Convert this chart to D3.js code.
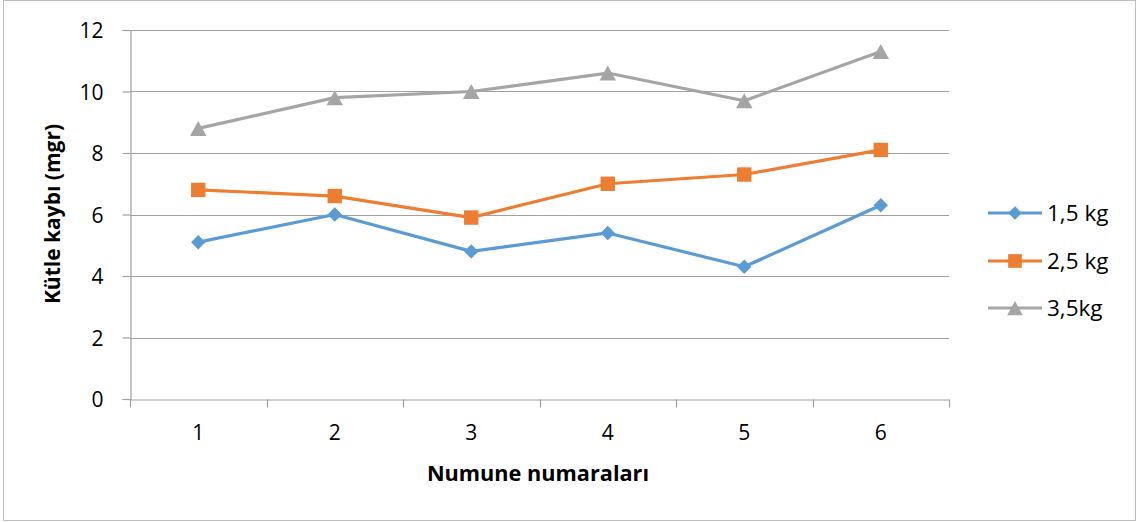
<!DOCTYPE html>
<html><head><meta charset="utf-8">
<script src="https://cdn.jsdelivr.net/npm/d3@7"></script>
<style>body{margin:0;background:#fff}svg{display:block}text{font-family:"Open Sans","Noto Sans",sans-serif;fill:#000}</style>
</head><body><svg id="c" width="1141" height="522"></svg>
<script>
const categories = ["1","2","3","4","5","6"];
const seriesNames = ["1,5 kg","2,5 kg","3,5kg"];
const s1 = [5.1, 6.0, 4.8, 5.4, 4.3, 6.3];
const s2 = [6.8, 6.6, 5.9, 7.0, 7.3, 8.1];
const s3 = [8.8, 9.8, 10.0, 10.6, 9.7, 11.3];
const yTicks = [0, 2, 4, 6, 8, 10, 12];
const colors = ["#5B9BD5", "#ED7D31", "#A5A5A5"];
const series = [s1, s2, s3];

// marker shapes
const markerPath = [
  s => `M0,${-s}L${s},0L0,${s}L${-s},0Z`,                  // diamond
  s => `M${-s},${-s}H${s}V${s}H${-s}Z`,                      // square
  s => `M0,${-s}L${s*1.1},${s}L${-s*1.1},${s}Z`              // triangle
];
const markerSize = [7.2, 7.2, 7.5];

const svg = d3.select("#c");
svg.append("rect").attr("x",3.5).attr("y",0.5).attr("width",1132).attr("height",520)
  .attr("fill","#fff").attr("stroke","#bfbfbf").attr("stroke-width",1);

const L = 130, R = 949, T = 30, B = 399;
const x = d3.scaleBand().domain(categories).range([L, R]);
const y = d3.scaleLinear().domain([0, 12]).range([B, T]);
const fs = "21px";

// gridlines
svg.append("g").selectAll("line").data(yTicks.filter(d=>d>0)).join("line")
  .attr("x1", L).attr("x2", R).attr("y1", d=>Math.round(y(d))+0.5).attr("y2", d=>Math.round(y(d))+0.5)
  .attr("stroke", "#a0a0a0").attr("stroke-width", 1.2);

// y axis
const ya = svg.append("g").attr("transform", `translate(${L+0.5},0)`)
  .call(d3.axisLeft(y).tickValues(yTicks).tickSize(8).tickPadding(19));
ya.select(".domain").attr("stroke","#a0a0a0").attr("stroke-width",1.2);
ya.selectAll(".tick line").attr("stroke","#a0a0a0").attr("stroke-width",1.2);
ya.selectAll(".tick text").style("font-size",fs).attr("dy","0.36em");

// x axis
const xa = svg.append("g").attr("transform", `translate(0,${B+0.5})`)
  .call(d3.axisBottom(x).tickSize(0).tickPadding(26));
xa.select(".domain").attr("stroke","#a0a0a0").attr("stroke-width",1.2);
xa.selectAll(".tick text").style("font-size",fs);
const bounds = categories.map(c=>x(c)).concat([R]);
xa.append("g").selectAll("line").data(bounds).join("line")
  .attr("x1", d=>Math.round(d)+0.5).attr("x2", d=>Math.round(d)+0.5).attr("y1",0).attr("y2",8)
  .attr("stroke","#a0a0a0").attr("stroke-width",1.2);

const cx = c => x(c) + x.bandwidth()/2;
const line = d3.line().x((d,i)=>cx(categories[i])).y(d=>y(d));

series.forEach((s, k) => {
  svg.append("path").datum(s).attr("d", line).attr("fill","none")
    .attr("stroke", colors[k]).attr("stroke-width", 3.2).attr("stroke-linejoin","round");
  svg.append("g").selectAll("path").data(s).join("path")
    .attr("transform", (d,i)=>`translate(${cx(categories[i])},${y(d)})`)
    .attr("d", markerPath[k](markerSize[k]))
    .attr("fill", colors[k]);
});

// axis titles
svg.append("text").attr("x", 538).attr("y", 481).attr("text-anchor","middle")
  .style("font-size","21.7px").style("font-weight","bold").text("Numune numaraları");
svg.append("text").attr("transform", `translate(60,214) rotate(-90)`).attr("text-anchor","middle")
  .style("font-size",fs).style("font-weight","bold").text("Kütle kaybı (mgr)");

// legend
const legY = [213, 261, 308];
seriesNames.forEach((n, k) => {
  const g = svg.append("g");
  g.append("line").attr("x1", 988).attr("x2", 1042).attr("y1", legY[k]).attr("y2", legY[k])
    .attr("stroke", colors[k]).attr("stroke-width", 3.2);
  g.append("path").attr("transform", `translate(1015,${legY[k]})`)
    .attr("d", markerPath[k](markerSize[k]*0.95)).attr("fill", colors[k]);
  g.append("text").attr("x", 1047).attr("y", legY[k]).attr("dy","0.36em")
    .style("font-size","22.5px").text(n);
});
</script></body></html>
